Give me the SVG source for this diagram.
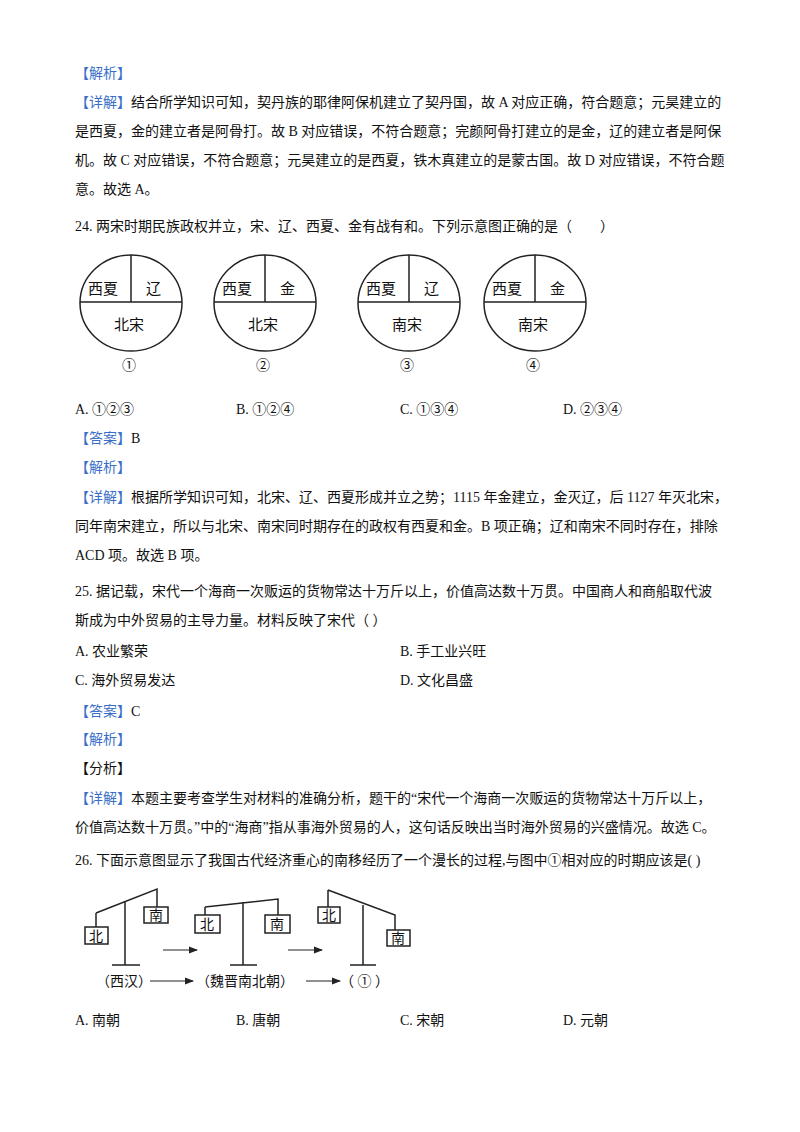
<svg xmlns="http://www.w3.org/2000/svg" width="800" height="1132" viewBox="0 0 800 1132">
<style>
text{font-family:"Liberation Serif","Noto Sans CJK SC",serif;font-size:14px;fill:#111}
.b{fill:#3a6fc8}
.s{fill:none;stroke:#222;stroke-width:1.5}
.c{font-size:15px}
</style>
<defs><marker id="a" markerWidth="8" markerHeight="6" refX="7" refY="3" orient="auto"><path d="M0,0L8,3L0,6z" fill="#222"/></marker></defs>
<rect width="800" height="1132" fill="#fff"/>
<text x="75" y="78" class="b">【解析】</text>
<text x="75" y="107"><tspan class="b">【详解】</tspan>结合所学知识可知，契丹族的耶律阿保机建立了契丹国，故 A 对应正确，符合题意；元昊建立的</text>
<text x="75" y="136">是西夏，金的建立者是阿骨打。故 B 对应错误，不符合题意；完颜阿骨打建立的是金，辽的建立者是阿保</text>
<text x="75" y="165">机。故 C 对应错误，不符合题意；元昊建立的是西夏，铁木真建立的是蒙古国。故 D 对应错误，不符合题</text>
<text x="75" y="194">意。故选 A。</text>
<text x="75" y="231">24. 两宋时期民族政权并立，宋、辽、西夏、金有战有和。下列示意图正确的是（　　）</text>
<g id="c1"><ellipse cx="131" cy="303" rx="51" ry="48" class="s"/><path d="M80,302H182M131,255V302" class="s"/><text x="88" y="294" class="c">西夏</text><text x="146" y="294" class="c">辽</text><text x="114" y="330" class="c">北宋</text><text x="122" y="370">①</text></g>
<g id="c2"><ellipse cx="265" cy="303" rx="51" ry="48" class="s"/><path d="M214,302H316M265,255V302" class="s"/><text x="222" y="294" class="c">西夏</text><text x="280" y="294" class="c">金</text><text x="248" y="330" class="c">北宋</text><text x="256" y="370">②</text></g>
<g id="c3"><ellipse cx="409" cy="303" rx="51" ry="48" class="s"/><path d="M358,302H460M409,255V302" class="s"/><text x="366" y="294" class="c">西夏</text><text x="424" y="294" class="c">辽</text><text x="392" y="330" class="c">南宋</text><text x="400" y="370">③</text></g>
<g id="c4"><ellipse cx="535" cy="303" rx="51" ry="48" class="s"/><path d="M484,302H586M535,255V302" class="s"/><text x="492" y="294" class="c">西夏</text><text x="550" y="294" class="c">金</text><text x="518" y="330" class="c">南宋</text><text x="526" y="370">④</text></g>
<text x="75" y="414">A. ①②③</text><text x="236" y="414">B. ①②④</text><text x="400" y="414">C. ①③④</text><text x="563" y="414">D. ②③④</text>
<text x="75" y="443"><tspan class="b">【答案】</tspan>B</text>
<text x="75" y="472" class="b">【解析】</text>
<text x="75" y="502"><tspan class="b">【详解】</tspan>根据所学知识可知，北宋、辽、西夏形成并立之势；1115 年金建立，金灭辽，后 1127 年灭北宋，</text>
<text x="75" y="531">同年南宋建立，所以与北宋、南宋同时期存在的政权有西夏和金。B 项正确；辽和南宋不同时存在，排除</text>
<text x="75" y="560">ACD 项。故选 B 项。</text>
<text x="75" y="596">25. 据记载，宋代一个海商一次贩运的货物常达十万斤以上，价值高达数十万贯。中国商人和商船取代波</text>
<text x="75" y="625">斯成为中外贸易的主导力量。材料反映了宋代（  ）</text>
<text x="75" y="656">A. 农业繁荣</text><text x="400" y="656">B. 手工业兴旺</text>
<text x="75" y="685">C. 海外贸易发达</text><text x="400" y="685">D. 文化昌盛</text>
<text x="75" y="716"><tspan class="b">【答案】</tspan>C</text>
<text x="75" y="744" class="b">【解析】</text>
<text x="75" y="773">【分析】</text>
<text x="75" y="803"><tspan class="b">【详解】</tspan>本题主要考查学生对材料的准确分析，题干的“宋代一个海商一次贩运的货物常达十万斤以上，</text>
<text x="75" y="832">价值高达数十万贯。”中的“海商”指从事海外贸易的人，这句话反映出当时海外贸易的兴盛情况。故选 C。</text>
<text x="75" y="865">26. 下面示意图显示了我国古代经济重心的南移经历了一个漫长的过程,与图中①相对应的时期应该是(   )</text>
<g id="bal1"><path d="M125,902V965M112,965H140M96,913L157,889V907M96,913V927" class="s"/><rect x="85" y="927" width="23" height="17" class="s"/><text x="89" y="941" font-size="13">北</text><rect x="144" y="907" width="24" height="16" class="s"/><text x="149" y="920" font-size="13">南</text></g>
<g id="bal2"><path d="M243,902V965M230,965H257M205,907L278,899V915M205,907V915" class="s"/><rect x="195" y="915" width="25" height="18" class="s"/><text x="200" y="929" font-size="13">北</text><rect x="265" y="915" width="25" height="18" class="s"/><text x="270" y="929" font-size="13">南</text></g>
<g id="bal3"><path d="M363,905V965M350,965H376M328,890L395,915V930M328,890V907" class="s"/><rect x="318" y="907" width="22" height="16" class="s"/><text x="322" y="920" font-size="13">北</text><rect x="387" y="930" width="23" height="16" class="s"/><text x="391" y="943" font-size="13">南</text></g>
<g id="connectors" stroke="#222" stroke-width="1.2" fill="none">
<path d="M163,950H197" marker-end="url(#a)"/><path d="M288,950H322" marker-end="url(#a)"/>
<path d="M150,981H193" marker-end="url(#a)"/><path d="M306,981H340" marker-end="url(#a)"/>
</g>
<text x="96" y="986" font-size="12">（西汉）</text>
<text x="196" y="986" font-size="12">（魏晋南北朝）</text>
<text x="340" y="986" font-size="12">（ ① ）</text>
<text x="75" y="1025">A. 南朝</text><text x="236" y="1025">B. 唐朝</text><text x="400" y="1025">C. 宋朝</text><text x="563" y="1025">D. 元朝</text>
</svg>
